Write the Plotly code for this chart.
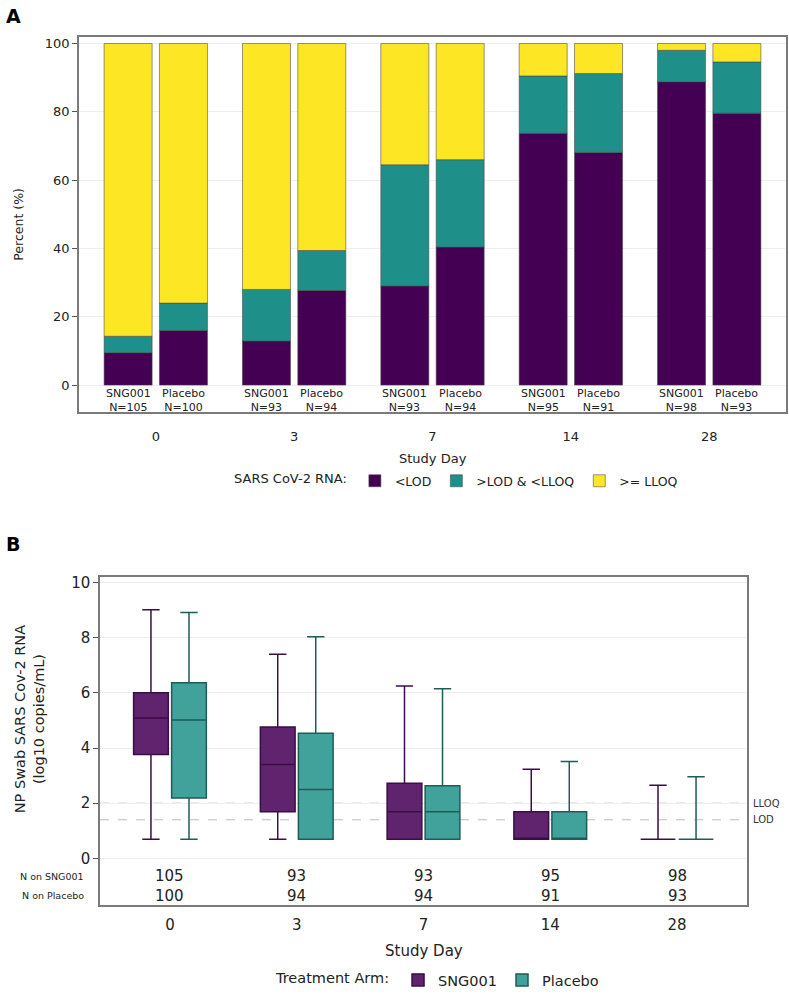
import plotly.graph_objects as go

# ---------------- data ----------------
days = ["0", "3", "7", "14", "28"]
arms = ["SNG001", "Placebo"]

# Panel A: percent of subjects per RNA category
n_sng = [105, 93, 93, 95, 98]
n_pbo = [100, 94, 94, 91, 93]
lod_sng = [9.5, 12.9, 29.0, 73.7, 88.8]
mid_sng = [4.8, 15.1, 35.5, 16.8, 9.2]
lloq_sng = [85.7, 72.0, 35.5, 9.5, 2.0]
lod_pbo = [16.0, 27.7, 40.4, 68.1, 79.6]
mid_pbo = [8.0, 11.7, 25.6, 23.1, 15.0]
lloq_pbo = [76.0, 60.6, 34.0, 8.8, 5.4]
cat_names = ["<LOD", ">LOD & <LLOQ", ">= LLOQ"]
cat_colors = ["#440154", "#1f8f89", "#fde725"]

# Panel B: box statistics (log10 copies/mL)
q1_sng = [3.77, 1.69, 0.69, 0.69, 0.69]
med_sng = [5.09, 3.40, 1.69, 0.69, 0.69]
q3_sng = [6.01, 4.76, 2.72, 1.69, 0.69]
lo_sng = [0.69, 0.69, 0.69, 0.69, 0.69]
hi_sng = [9.02, 7.40, 6.25, 3.23, 2.65]
q1_pbo = [2.19, 0.69, 0.69, 0.69, 0.69]
med_pbo = [5.02, 2.50, 1.69, 0.69, 0.69]
q3_pbo = [6.37, 4.54, 2.63, 1.69, 0.69]
lo_pbo = [0.69, 0.69, 0.69, 0.69, 0.69]
hi_pbo = [8.92, 8.04, 6.15, 3.51, 2.96]
LLOQ = 2.0
LOD = 1.398

FONT = "DejaVu Sans"
W, H = 789, 996


def px(x):
    return x / W


def py(y):
    return 1 - y / H


fig = go.Figure()

# ---------- Panel A ----------
idx = list(range(len(days)))
xa = [i - 0.2 for i in idx] + [i + 0.2 for i in idx]
seg_vals = [(lod_sng, lod_pbo), (mid_sng, mid_pbo), (lloq_sng, lloq_pbo)]
for name, col, (s, p) in zip(cat_names, cat_colors, seg_vals):
    fig.add_trace(go.Bar(
        x=xa, y=list(s) + list(p), name=name, width=0.347,
        marker=dict(color=col, line=dict(color="rgba(70,70,70,0.55)", width=1)),
        xaxis="x", yaxis="y", legend="legend",
    ))

# ---------- Panel B ----------
box_specs = [
    ("SNG001", -0.15, q1_sng, med_sng, q3_sng, lo_sng, hi_sng, "#60246e", "#3a0d44"),
    ("Placebo", 0.15, q1_pbo, med_pbo, q3_pbo, lo_pbo, hi_pbo, "#40a29a", "#1d5c57"),
]
for name, off, q1, med, q3, lo, hi, fill, line in box_specs:
    fig.add_trace(go.Box(
        x=[i + off for i in idx], q1=q1, median=med, q3=q3,
        lowerfence=lo, upperfence=hi, name=name, width=0.274,
        fillcolor=fill, line=dict(color=line, width=1.5), whiskerwidth=0.5,
        boxpoints=False, xaxis="x2", yaxis="y2", legend="legend2",
    ))

frame = dict(showline=True, mirror=True, linecolor="#7a7a7a", linewidth=1.5, zeroline=False)

fig.update_layout(
    width=W, height=H, margin=dict(l=0, r=0, t=0, b=0),
    paper_bgcolor="white", plot_bgcolor="white",
    barmode="relative", boxmode="overlay",
    font=dict(family=FONT, color="#222"),
    showlegend=True,
    xaxis=dict(domain=[px(79), px(786)], range=[-0.555, 4.555], anchor="y",
               tickvals=idx, ticktext=days, ticks="outside", ticklen=12,
               tickcolor="rgba(0,0,0,0)", showgrid=False,
               tickfont=dict(size=13, family=FONT), **frame),
    yaxis=dict(domain=[py(413), py(34)], range=[-7.83, 102.0], anchor="x",
               tickvals=[0, 20, 40, 60, 80, 100], ticks="outside", ticklen=5,
               tickcolor="#555", showgrid=True, gridcolor="#eeeeee",
               tickfont=dict(size=13, family=FONT), **frame),
    xaxis2=dict(domain=[px(100), px(747)], range=[-0.552, 4.552], anchor="y2",
                tickvals=idx, ticktext=days, ticks="outside", ticklen=5,
                tickcolor="rgba(0,0,0,0)", showgrid=False,
                tickfont=dict(size=15, family=FONT), **frame),
    yaxis2=dict(domain=[py(911), py(580)], range=[-1.688, 10.198], anchor="x2",
                tickvals=[0, 2, 4, 6, 8, 10], ticks="outside", ticklen=5,
                tickcolor="#555", showgrid=True, gridcolor="#eeeeee",
                tickfont=dict(size=15, family=FONT), **frame),
    legend=dict(orientation="h", x=px(232), xanchor="left", y=py(483), yanchor="middle",
                title=dict(text="SARS CoV-2 RNA:", side="left", font=dict(size=13)),
                font=dict(size=12.5), itemwidth=30, traceorder="normal",
                bgcolor="rgba(0,0,0,0)"),
    legend2=dict(orientation="h", x=px(274), xanchor="left", y=py(987), yanchor="middle",
                 title=dict(text="Treatment Arm:", side="left", font=dict(size=14.5)),
                 font=dict(size=14.5), itemwidth=30, traceorder="normal",
                 bgcolor="rgba(0,0,0,0)"),
)

ann = []


def note(text, x, y, xref="paper", yref="paper", size=12, xanchor="center",
         yanchor="middle", angle=0, color=None):
    f = dict(size=size)
    if color:
        f["color"] = color
    ann.append(dict(text=text, x=x, y=y, xref=xref, yref=yref, xanchor=xanchor,
                    yanchor=yanchor, textangle=angle, showarrow=False, font=f))


# panel letters
note("<b>A</b>", px(4), py(13), size=19, xanchor="left", color="black")
note("<b>B</b>", px(4), py(546), size=19, xanchor="left", color="black")
# axis titles
note("Percent (%)", px(18.5), py(223.5), size=12.5, angle=-90)
note("Study Day", px(432.5), py(460), size=13)
note("NP Swab SARS Cov-2 RNA<br>(log10 copies/mL)", px(29.5), py(724), size=14.5, angle=-90)
note("Study Day", px(423.5), py(958), size=15)
# bar labels
for i in idx:
    for off, arm, n in ((-0.2, arms[0], n_sng[i]), (0.2, arms[1], n_pbo[i])):
        note(f"{arm}<br>N={n}", i + off, py(402), xref="x", size=11)
# N rows panel B
note("N on SNG001", px(86), py(882), size=9.5, xanchor="right")
note("N on Placebo", px(86), py(901.5), size=9.5, xanchor="right")
for i in idx:
    note(f"{n_sng[i]}<br>{n_pbo[i]}", i, py(892), xref="x2", size=15)
# LLOQ / LOD labels
note("LLOQ", px(751), LLOQ, yref="y2", size=10, xanchor="left", color="#333")
note("LOD", px(751), LOD, yref="y2", size=10, xanchor="left", color="#333")
fig.update_layout(annotations=ann)

for yv in (LLOQ, LOD):
    fig.add_shape(type="line", xref="x2 domain", yref="y2", x0=0, x1=1, y0=yv, y1=yv,
                  line=dict(color="#bdbdbd", width=1, dash="dash"), layer="below")

# remove the default 8px page margin so the figure fills the window exactly
fig.write_html("out.html", config={"displayModeBar": False},
               post_script="document.body.style.margin='0px';document.body.style.overflow='hidden';")
